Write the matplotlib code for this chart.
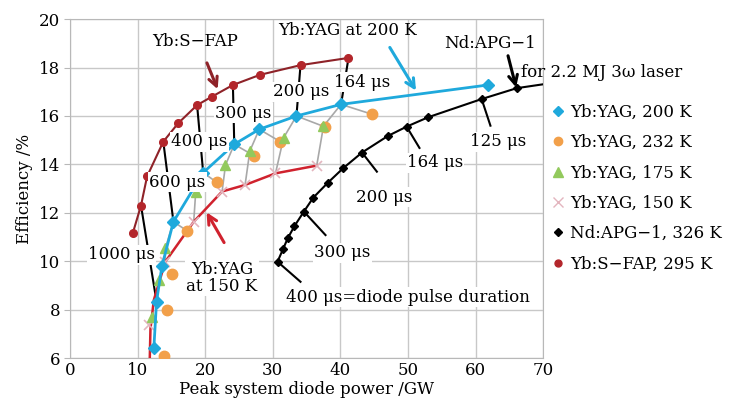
import numpy as np
import matplotlib.pyplot as plt

plt.rcParams['font.family'] = ['DejaVu Serif']
plt.rcParams['font.size'] = 12

# ---------------- data ----------------
# Yb:S-FAP, 295 K
sfap_x = [9.3, 10.5, 11.4, 13.8, 16.0, 18.8, 21.0, 24.1, 28.1, 34.1, 41.2]
sfap_y = [11.17, 12.3, 13.5, 14.94, 15.7, 16.45, 16.8, 17.28, 17.7, 18.1, 18.4]

# Yb:YAG, 200 K
y200_x = [12.4, 12.8, 13.6, 15.3, 19.7, 24.3, 28.0, 33.5, 40.1, 61.8]
y200_y = [6.4, 8.33, 9.8, 11.63, 13.66, 14.83, 15.45, 16.0, 16.48, 17.28]

# Yb:YAG, 232 K
y232_x = [13.9, 14.3, 15.1, 17.3, 21.7, 27.2, 31.1, 37.7, 44.7]
y232_y = [6.1, 8.0, 9.47, 11.26, 13.26, 14.36, 14.94, 15.55, 16.07]

# Yb:YAG, 175 K
y175_x = [12.2, 13.1, 14.1, 18.6, 23.0, 26.6, 31.6, 37.5]
y175_y = [7.7, 9.22, 10.53, 12.88, 13.97, 14.55, 15.1, 15.58]

# Yb:YAG, 150 K (markers and the red curve through them)
y150_x = [11.7, 14.1, 18.3, 22.5, 25.9, 30.4, 36.5]
y150_y = [7.35, 9.98, 11.63, 12.88, 13.15, 13.63, 13.95]
y150_line_x = [11.8, 11.9, 12.4, 14.1, 18.3, 22.5, 25.9, 30.4, 36.5]
y150_line_y = [6.0, 7.2, 8.4, 9.98, 11.63, 12.88, 13.15, 13.63, 13.95]

# Nd:APG-1, 326 K
nd_x = [30.7, 31.5, 32.2, 33.2, 34.6, 36.0, 38.1, 40.4, 43.2, 47.0, 49.8, 53.0, 60.9, 66.1]
nd_y = [9.98, 10.49, 10.94, 11.45, 12.05, 12.63, 13.23, 13.84, 14.49, 15.17, 15.56, 15.95, 16.7, 17.15]
nd_end_x, nd_end_y = 70.0, 17.31

# iso-pulse-duration gray lines: 232 K -> 200 K -> 175 K -> 150 K (index in each list)
iso_idx = [(3, 3, 2, 1), (4, 4, 3, 2), (5, 5, 4, 3), (6, 6, 5, 4), (7, 7, 6, 5), (8, 8, 7, 6)]

c_cyan = '#1fa9dc'
c_orange = '#f2a04a'
c_green = '#92c95c'
c_cross = '#e3b5be'
c_red = '#d0222e'
c_sfap = '#8e2228'
c_sfap_mk = '#b3262b'

fig = plt.figure(figsize=(7.41, 4.08), dpi=100)
ax = fig.add_axes([0.0945, 0.1225, 0.6385, 0.8305])

# gray iso lines
for i232, i200, i175, i150 in iso_idx:
    xs = [y232_x[i232], y200_x[i200], y175_x[i175], y150_x[i150]]
    ys = [y232_y[i232], y200_y[i200], y175_y[i175], y150_y[i150]]
    ax.plot(xs, ys, color='#a8a8a8', lw=1.2, zorder=2)

# leader lines from S-FAP points to 200 K points
sfap_lead = [(1, 1), (3, 3), (5, 4), (7, 5), (9, 7), (10, 8)]
for i_s, i_y in sfap_lead:
    ax.plot([sfap_x[i_s], y200_x[i_y]], [sfap_y[i_s], y200_y[i_y]], color='black', lw=1.5, zorder=3)

# short ticks on the Nd:APG-1 curve
nd_ticks = [(0, 34.1, 9.15), (4, 37.8, 11.08), (8, 45.4, 13.7), (10, 51.7, 14.68), (12, 62.2, 15.6)]
for i, ex, ey in nd_ticks:
    ax.plot([nd_x[i], ex], [nd_y[i], ey], color='black', lw=1.5, zorder=3)

ax.plot(sfap_x, sfap_y, color=c_sfap, lw=1.5, zorder=4)
ax.plot(sfap_x, sfap_y, 'o', color=c_sfap_mk, ms=5.5, zorder=5)
ax.plot(y150_line_x, y150_line_y, color=c_red, lw=1.8, zorder=4)
ax.plot(y150_x, y150_y, 'x', color=c_cross, ms=7, mew=1.2, zorder=5)
ax.plot(y232_x, y232_y, 'o', color=c_orange, ms=7.5, zorder=5)
ax.plot(y175_x, y175_y, '^', color=c_green, ms=7.5, zorder=5)
ax.plot(y200_x, y200_y, color=c_cyan, lw=2, zorder=6)
ax.plot(y200_x, y200_y, 'D', color=c_cyan, ms=6, zorder=7)
ax.plot(nd_x + [nd_end_x], nd_y + [nd_end_y], color='black', lw=1.5, zorder=6)
ax.plot(nd_x, nd_y, 'D', color='black', ms=4.5, zorder=7)

# legend handles (markers only)
h1, = ax.plot([], [], 'D', color=c_cyan, ms=5, label='Yb:YAG, 200 K')
h2, = ax.plot([], [], 'o', color=c_orange, ms=6, label='Yb:YAG, 232 K')
h3, = ax.plot([], [], '^', color=c_green, ms=7, label='Yb:YAG, 175 K')
h4, = ax.plot([], [], 'x', color=c_cross, ms=7, label='Yb:YAG, 150 K')
h5, = ax.plot([], [], 'D', color='black', ms=4.5, label='Nd:APG\u22121, 326 K')
h6, = ax.plot([], [], 'o', color=c_sfap_mk, ms=5, label='Yb:S\u2212FAP, 295 K')
ax.legend(handles=[h1, h2, h3, h4, h5, h6], loc='upper left', bbox_to_anchor=(1.0, 0.78),
          frameon=False, handlelength=0.6, handletextpad=0.4, labelspacing=0.8,
          borderaxespad=0.2, fontsize=12)

box = dict(fc='white', ec='none', pad=1)
labels = [
    ('300 \u03bcs', 25.6, 16.12), ('400 \u03bcs', 19.1, 14.93), ('600 \u03bcs', 15.9, 13.27),
    ('1000 \u03bcs', 7.6, 10.26), ('200 \u03bcs', 34.2, 17.0), ('164 \u03bcs', 43.2, 17.4),
    ('300 \u03bcs', 40.3, 10.34), ('200 \u03bcs', 46.5, 12.65), ('164 \u03bcs', 54.0, 14.06),
    ('125 \u03bcs', 63.4, 14.93), ('400 \u03bcs=diode pulse duration', 50.0, 8.52),
    ('Yb:YAG\nat 150 K', 22.5, 9.3),
]
for txt, x, y in labels:
    ax.text(x, y, txt, ha='center', va='center', bbox=box, zorder=8, linespacing=1.0)

ax.text(18.5, 19.06, 'Yb:S\u2212FAP', ha='center', va='center', zorder=8)
ax.text(41.0, 19.55, 'Yb:YAG at 200 K', ha='center', va='center', zorder=8)
ax.text(62.2, 19.0, 'Nd:APG\u22121', ha='center', va='center', zorder=8)
ax.text(66.7, 17.8, 'for 2.2 MJ 3\u03c9 laser', ha='left', va='center', zorder=8, clip_on=False)

arrow_kw = dict(arrowstyle='->', lw=2.2, mutation_scale=16)
ax.annotate('', xy=(22.0, 17.0), xytext=(20.1, 18.3), arrowprops=dict(color=c_sfap, **arrow_kw), zorder=8)
ax.annotate('', xy=(51.4, 16.95), xytext=(47.1, 18.93), arrowprops=dict(color=c_cyan, **arrow_kw), zorder=8)
ax.annotate('', xy=(66.1, 17.07), xytext=(64.7, 18.6), arrowprops=dict(color='black', **arrow_kw), zorder=8)
ax.annotate('', xy=(20.0, 12.12), xytext=(23.0, 10.67), arrowprops=dict(color=c_red, **arrow_kw), zorder=8)

ax.set_xlim(0, 70)
ax.set_ylim(6, 20)
ax.set_xticks(range(0, 71, 10))
ax.set_yticks(range(6, 21, 2))
ax.grid(True, color='#c8c8c8', lw=1)
ax.set_axisbelow(True)
for s in ax.spines.values():
    s.set_color('#b8b8b8')
ax.tick_params(axis='y', length=4, color='#b8b8b8', pad=3)
ax.tick_params(axis='x', length=0, pad=3)
ax.set_xlabel('Peak system diode power /GW', labelpad=1)
ax.set_ylabel('Efficiency /%', labelpad=4)

fig.savefig('out.png', dpi=100)
